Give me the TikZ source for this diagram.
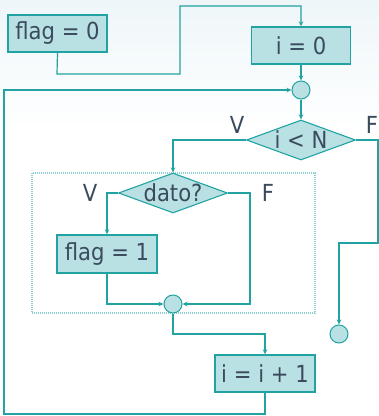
\documentclass[tikz,border=0pt]{standalone}
\usepackage{fontspec}
\setmainfont{DejaVu Sans}[FakeStretch=0.9]
\usetikzlibrary{shapes.geometric,arrows.meta}
\definecolor{boxfill}{HTML}{B9E0E3}
\definecolor{boxline}{HTML}{22A3A3}
\definecolor{wire}{HTML}{22A2A2}
\definecolor{ink}{HTML}{3B4B5E}
\definecolor{haze}{HTML}{EEF6F9}
\definecolor{frame}{HTML}{8ECFD3}
\begin{document}
\begin{tikzpicture}[x=1pt,y=-1pt,
  txt/.style={text=ink,font=\fontsize{23.5}{28}\selectfont},
  stepbox/.style={draw=boxline,fill=boxfill,line width=1.4pt,minimum width=99pt,minimum height=37pt,inner sep=0pt,txt},
  decision/.style={diamond,draw=boxline,fill=boxfill,line width=1.1pt,minimum width=109pt,minimum height=40pt,inner sep=0pt},
  joint/.style={circle,draw=boxline,fill=boxfill,line width=1pt,minimum size=18pt,inner sep=0pt},
  flow/.style={draw=wire,line width=1.2pt,-{Stealth[length=5pt,width=4.5pt]}},
  branch/.style={txt,inner sep=0pt}]
\useasboundingbox (0,0) rectangle (379,416);
% soft background tint along the top
\shade[top color=haze,bottom color=white] (0,0) rectangle (379,130);

% loop body frame
\draw[frame,line width=1.3pt,dash pattern=on 1pt off 1pt] (32,173) rectangle (315,313);

% blocks
\node[stepbox] (flag0) at (57.5,33.5) {flag = 0};
\node[stepbox] (i0) at (301,45.5) {i = 0};
\node[joint] (c1) at (301,90) {};
\node[decision,label={[txt]center:i < N}] (iN) at (301,140) {};
\node[decision,label={[txt]center:dato?}] (dato) at (173,193) {};
\node[stepbox,minimum width=100pt,minimum height=38pt] (flag1) at (107,254) {flag = 1};
\node[joint] (c2) at (173,304) {};
\node[joint] (c3) at (339,334) {};
\node[stepbox,minimum width=100pt] (inc) at (265,373.5) {i = i + 1};

% branch labels
\node[branch] (v1) at (237,125) {V};
\node[branch] (f1) at (372,125) {F};
\node[branch] (v2) at (90,193) {V};
\node[branch] (f2) at (268,193) {F};

% connectors
\coordinate (a1) at (57,74);
\coordinate (a2) at (180,74);
\coordinate (a3) at (180,6);
\coordinate (a4) at (301,6);
\draw[flow] (flag0.south) -- (a1) -- (a2) -- (a3) -- (a4) -- (i0.north);
\draw[flow] (i0.south) -- (c1.north);
\draw[flow] (c1.south) -- (iN.north);
\draw[flow] (iN.west) -| (dato.north);
\coordinate (b1) at (378,140);
\coordinate (b2) at (378,243);
\coordinate (b3) at (339,243);
\draw[flow] (iN.east) -- (b1) -- (b2) -- (b3) -- (c3.north);
\draw[flow] (dato.west) -| (flag1.north);
\coordinate (d1) at (250,193);
\coordinate (d2) at (250,304);
\draw[flow] (dato.east) -- (d1) -- (d2) -- (c2.east);
\draw[flow] (flag1.south) |- (c2.west);
\coordinate (e1) at (173,334);
\coordinate (e2) at (265,334);
\draw[flow] (c2.south) -- (e1) -- (e2) -- (inc.north);
\coordinate (g1) at (265,414);
\coordinate (g2) at (4,414);
\coordinate (g3) at (4,90);
\draw[flow] (inc.south) -- (g1) -- (g2) -- (g3) -- (c1.west);
\end{tikzpicture}
\end{document}
